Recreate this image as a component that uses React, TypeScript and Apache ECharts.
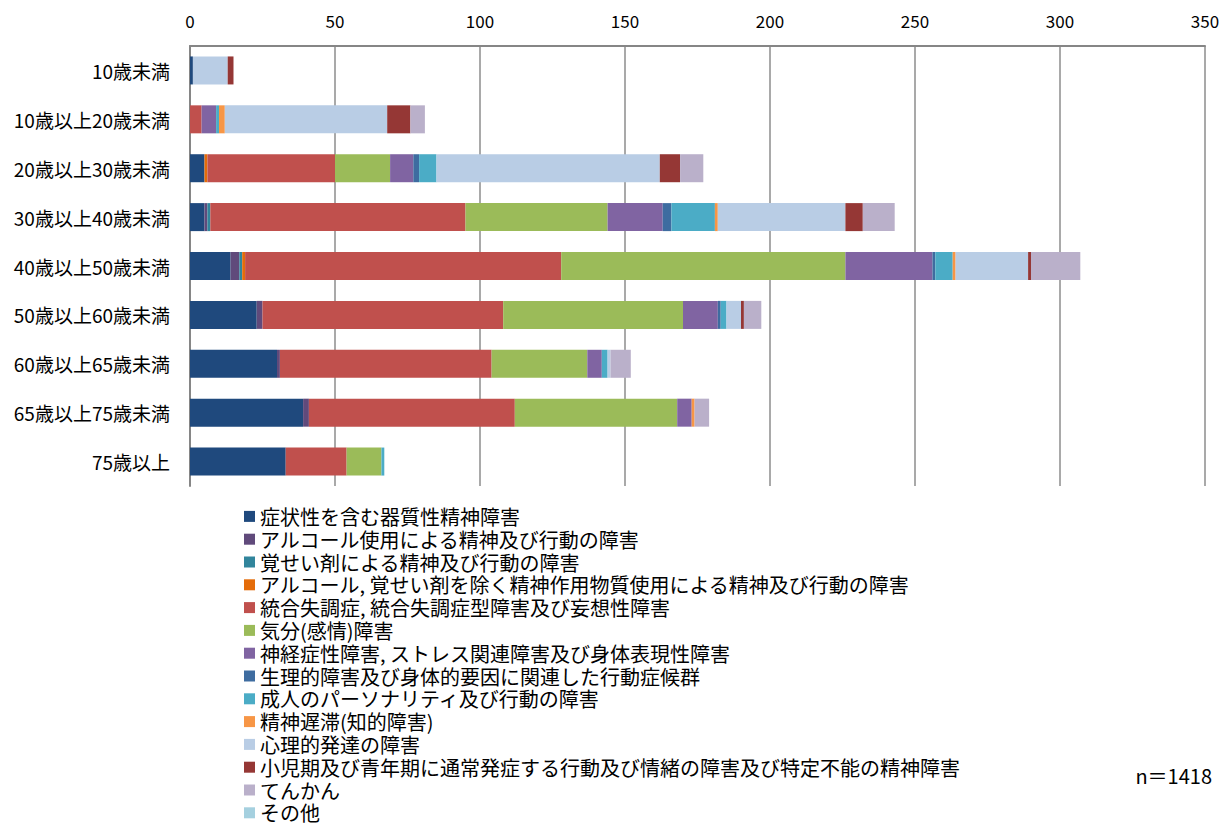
import React, { useEffect, useRef } from "react";
import * as echarts from "echarts";

const categories = [
  "10歳未満",
  "10歳以上20歳未満",
  "20歳以上30歳未満",
  "30歳以上40歳未満",
  "40歳以上50歳未満",
  "50歳以上60歳未満",
  "60歳以上65歳未満",
  "65歳以上75歳未満",
  "75歳以上",
];

const seriesNames = [
  "症状性を含む器質性精神障害",
  "アルコール使用による精神及び行動の障害",
  "覚せい剤による精神及び行動の障害",
  "アルコール, 覚せい剤を除く精神作用物質使用による精神及び行動の障害",
  "統合失調症, 統合失調症型障害及び妄想性障害",
  "気分(感情)障害",
  "神経症性障害, ストレス関連障害及び身体表現性障害",
  "生理的障害及び身体的要因に関連した行動症候群",
  "成人のパーソナリティ及び行動の障害",
  "精神遅滞(知的障害)",
  "心理的発達の障害",
  "小児期及び青年期に通常発症する行動及び情緒の障害及び特定不能の精神障害",
  "てんかん",
  "その他",
];

const seriesColors = [
  "#1F497D",
  "#604A7B",
  "#31859C",
  "#E46C0A",
  "#C0504D",
  "#9BBB59",
  "#8064A2",
  "#3E6CA0",
  "#4BACC6",
  "#F79646",
  "#B9CDE5",
  "#953735",
  "#BAB0CA",
  "#A5D0DF",
];

const organic = [1, 0, 5, 5, 14, 23, 30, 39, 33];
const alcohol = [0, 0, 0, 1, 3, 2, 1, 2, 0];
const meth = [0, 0, 0, 1, 1, 0, 0, 0, 0];
const otherSubstance = [0, 0, 1, 0, 1, 0, 0, 0, 0];
const schizophrenia = [0, 4, 44, 88, 109, 83, 73, 71, 21];
const mood = [0, 0, 19, 49, 98, 62, 33, 56, 12];
const neurotic = [0, 5, 8, 19, 30, 12, 5, 5, 0];
const physiological = [0, 0, 2, 3, 1, 1, 0, 0, 0];
const personality = [0, 1, 6, 15, 6, 2, 2, 0, 1];
const retardation = [0, 2, 0, 1, 1, 0, 0, 1, 0];
const development = [12, 56, 77, 44, 25, 5, 1, 0, 0];
const childhood = [2, 8, 7, 6, 1, 1, 0, 0, 0];
const epilepsy = [0, 5, 8, 11, 17, 6, 7, 5, 0];
const others = [0, 0, 0, 0, 0, 0, 0, 0, 0];

const seriesValues = [
  organic,
  alcohol,
  meth,
  otherSubstance,
  schizophrenia,
  mood,
  neurotic,
  physiological,
  personality,
  retardation,
  development,
  childhood,
  epilepsy,
  others,
];

const xTicks = { min: 0, max: 350, interval: 50 };
const totalLabel = "n＝1418";

const FONT = "'Noto Sans CJK JP', 'Noto Sans', sans-serif";

export default function App() {
  const ref = useRef<HTMLDivElement>(null);

  useEffect(() => {
    if (!ref.current) return;
    const chart = echarts.init(ref.current, null, { renderer: "svg" });
    const option = {
      animation: false,
      backgroundColor: "#ffffff",
      textStyle: { fontFamily: FONT },
      grid: { left: 190, right: 26, top: 46, bottom: 340, containLabel: false },
      xAxis: {
        type: "value",
        position: "top",
        min: xTicks.min,
        max: xTicks.max,
        interval: xTicks.interval,
        axisLine: { show: true, lineStyle: { color: "#868686", width: 2 } },
        axisTick: { show: false },
        axisLabel: { color: "#000", fontSize: 17, margin: 17, fontFamily: FONT },
        splitLine: { show: true, lineStyle: { color: "#8C8C8C", width: 1.5 } },
      },
      yAxis: {
        type: "category",
        inverse: true,
        data: categories,
        axisLine: { show: true, lineStyle: { color: "#868686", width: 2 } },
        axisTick: { show: false },
        axisLabel: { color: "#000", fontSize: 19, margin: 20, fontFamily: FONT },
        splitLine: { show: false },
      },
      legend: {
        orient: "vertical",
        left: 244,
        top: 505,
        padding: 0,
        itemWidth: 11,
        itemHeight: 11,
        itemGap: 0,
        icon: "rect",
        selectedMode: false,
        textStyle: { color: "#000", fontSize: 20, lineHeight: 22.8, fontFamily: FONT, padding: [0, 0, 0, 0] },
        data: seriesNames,
      },
      graphic: [
        {
          type: "text",
          right: 19,
          top: 765,
          style: { text: totalLabel, fill: "#000", fontSize: 20, fontFamily: FONT },
        },
      ],
      series: seriesNames.map((name, i) => ({
        name,
        type: "bar",
        stack: "total",
        barWidth: 28,
        itemStyle: { color: seriesColors[i] },
        data: seriesValues[i].map((v) => (v === 0 ? "-" : v)),
      })),
    };
    chart.setOption(option);
    return () => chart.dispose();
  }, []);

  return (
    <div
      ref={ref}
      style={{ position: "fixed", left: 0, top: 0, width: 1231, height: 826, background: "#fff" }}
    />
  );
}
